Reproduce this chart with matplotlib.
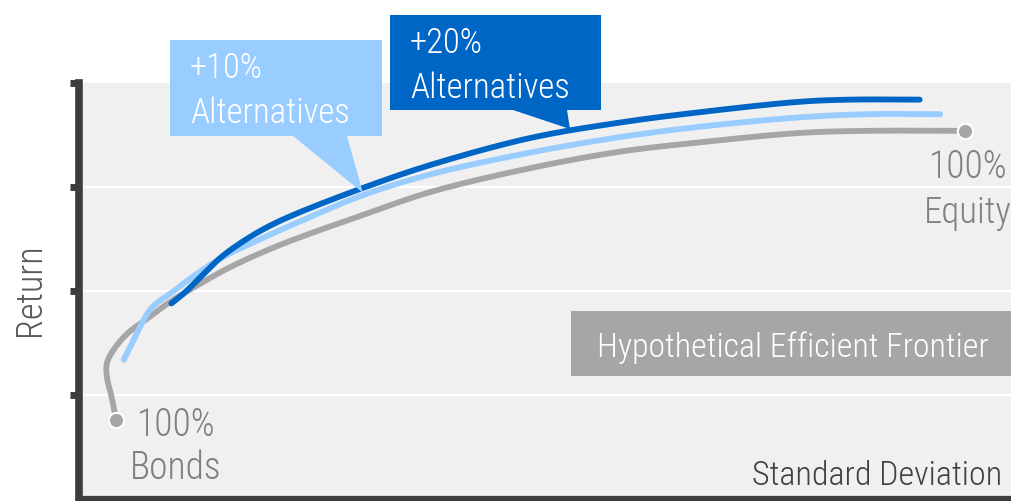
import numpy as np
import matplotlib.pyplot as plt
from matplotlib import font_manager
from matplotlib.patches import Polygon

# prefer a narrow face for all labels
names = {(f.name, f.stretch) for f in font_manager.fontManager.ttflist}
fam_names = {n for n, s in names}
scale = 1.0
if 'Roboto Condensed' in fam_names:
    plt.rcParams['font.family'] = ['Roboto Condensed', 'DejaVu Sans']
    plt.rcParams['font.weight'] = 'light'
elif 'Liberation Sans Narrow' in fam_names:
    plt.rcParams['font.family'] = ['Liberation Sans Narrow', 'DejaVu Sans']
elif ('DejaVu Sans', 'condensed') in names:
    plt.rcParams['font.family'] = ['DejaVu Sans']
    plt.rcParams['font.stretch'] = 'condensed'
    scale = 0.9
else:
    plt.rcParams['font.family'] = ['Roboto', 'DejaVu Sans']
    plt.rcParams['font.weight'] = 'light'
    scale = 0.85

# standard deviation / return along each frontier
base_x = [0.40, 0.35, 0.30, 0.30, 0.39, 0.53, 0.71, 0.95, 1.24, 1.60, 1.96, 2.32, 3.04, 3.76,
          4.83, 5.80, 6.66, 7.73, 8.45, 9.50]
base_y = [0.76, 0.98, 1.17, 1.31, 1.46, 1.60, 1.72, 1.88, 2.04, 2.22, 2.37, 2.50, 2.73, 2.95,
          3.18, 3.34, 3.43, 3.52, 3.54, 3.54]

alt10_x = [0.48, 0.57, 0.68, 0.78, 1.00, 1.24, 1.53, 1.85, 2.32, 3.04, 3.76, 4.83, 5.80, 6.66,
           7.73, 8.45, 9.23]
alt10_y = [1.34, 1.50, 1.70, 1.84, 1.99, 2.15, 2.32, 2.46, 2.65, 2.92, 3.12, 3.33, 3.48, 3.58,
           3.67, 3.70, 3.70]

alt20_x = [0.99, 1.14, 1.32, 1.53, 1.78, 2.03, 2.32, 3.04, 3.76, 4.83, 5.80, 6.66, 7.73, 8.26, 9.01]
alt20_y = [1.88, 1.99, 2.15, 2.33, 2.49, 2.62, 2.74, 2.99, 3.21, 3.47, 3.62, 3.72, 3.82, 3.84, 3.84]

GREY = '#a6a6a6'
LIGHT = '#99ccff'
DARK = '#0066c6'

W, H = 1012, 501
fig = plt.figure(figsize=(W / 100, H / 100), dpi=100)
ax = fig.add_axes([79 / W, 2 / H, (W - 79) / W, 416 / H])
ax.set_facecolor('#f0f0f0')
ax.set_xlim(0, 10)
ax.set_ylim(0, 4)


def smooth(xs, ys, n=24):
    # centripetal Catmull-Rom, worked in screen space so spacing is even
    pts = ax.transData.transform(np.column_stack([xs, ys]))
    p = np.vstack([2 * pts[0] - pts[1], pts, 2 * pts[-1] - pts[-2]])
    out = []
    for i in range(1, len(p) - 2):
        p0, p1, p2, p3 = p[i - 1], p[i], p[i + 1], p[i + 2]
        t0 = 0.0
        t1 = t0 + np.linalg.norm(p1 - p0) ** 0.5
        t2 = t1 + np.linalg.norm(p2 - p1) ** 0.5
        t3 = t2 + np.linalg.norm(p3 - p2) ** 0.5
        t = np.linspace(t1, t2, n, endpoint=False)[:, None]
        a1 = (t1 - t) / (t1 - t0) * p0 + (t - t0) / (t1 - t0) * p1
        a2 = (t2 - t) / (t2 - t1) * p1 + (t - t1) / (t2 - t1) * p2
        a3 = (t3 - t) / (t3 - t2) * p2 + (t - t2) / (t3 - t2) * p3
        b1 = (t2 - t) / (t2 - t0) * a1 + (t - t0) / (t2 - t0) * a2
        b2 = (t3 - t) / (t3 - t1) * a2 + (t - t1) / (t3 - t1) * a3
        out.append((t2 - t) / (t2 - t1) * b1 + (t - t1) / (t2 - t1) * b2)
    out.append(p[-2][None, :])
    out = ax.transData.inverted().transform(np.vstack(out))
    return out[:, 0], out[:, 1]


for s in ['top', 'right']:
    ax.spines[s].set_visible(False)
ax.spines['left'].set_color('#3d3d3d')
ax.spines['left'].set_linewidth(5.5)
ax.spines['bottom'].set_color('#3d3d3d')
ax.spines['bottom'].set_linewidth(4.5)
ax.set_xticks([])
ax.set_yticks([1, 2, 3, 4])
ax.set_yticklabels([])
ax.tick_params(axis='y', length=6.5, width=5, color='#3d3d3d', direction='out')
for g in [1, 2, 3]:
    ax.axhline(g, color='white', lw=1.6, zorder=1)


def fx(px):
    return px / W


def fy(py):
    return 1 - py / H


def label(px, py, s, **kw):
    fig.text(fx(px), fy(py), s, va='baseline', **kw)


def callout(box, tip, base, color, lines, tx, baselines):
    x0, y0, x1, y1 = box
    pts = [(x0, y0), (x1, y0), (x1, y1), (base[1], y1), tip, (base[0], y1), (x0, y1)]
    poly = Polygon([(fx(a), fy(b)) for a, b in pts], closed=True, transform=fig.transFigure,
                   facecolor=color, edgecolor='none', zorder=2)
    fig.patches.append(poly)
    for s, b in zip(lines, baselines):
        label(tx, b, s, color='white', fontsize=25 * scale, ha='left', zorder=3)


callout((170, 40, 382, 136), (363, 193), (293, 347), LIGHT, ['+10%', 'Alternatives'], 190, [78, 123])
callout((390, 15, 601, 110), (570, 129), (513, 567), DARK, ['+20%', 'Alternatives'], 410, [53, 98])

for xs, ys, c in [(base_x, base_y, GREY), (alt10_x, alt10_y, LIGHT), (alt20_x, alt20_y, DARK)]:
    sx, sy = smooth(xs, ys)
    ax.plot(sx, sy, color=c, lw=4.2, solid_capstyle='round', zorder=4)

ax.plot([base_x[0], base_x[-1]], [base_y[0], base_y[-1]], 'o', ms=11, color=GREY,
        mec='white', mew=1.5, zorder=5, clip_on=False)

label(176, 436, '100%', color='#808080', fontsize=27 * scale, ha='center')
label(176, 479, 'Bonds', color='#808080', fontsize=27 * scale, ha='center')
label(968, 178, '100%', color='#808080', fontsize=27 * scale, ha='center')
label(968, 223, 'Equity', color='#808080', fontsize=26.5 * scale, ha='center')

fig.patches.append(Polygon([(fx(571), fy(311)), (fx(1012), fy(311)), (fx(1012), fy(376)), (fx(571), fy(376))],
                           closed=True, transform=fig.transFigure, facecolor=GREY, edgecolor='none'))
label(793, 357, 'Hypothetical Efficient Frontier', color='white', fontsize=24.4 * scale, ha='center')
label(1002, 485, 'Standard Deviation', color='#404040', fontsize=24.6 * scale, ha='right')
fig.text(fx(30), fy(290), 'Return', color='#595959', fontsize=26 * scale, rotation=90,
         ha='center', va='center')

fig.savefig('out.png', dpi=100)
